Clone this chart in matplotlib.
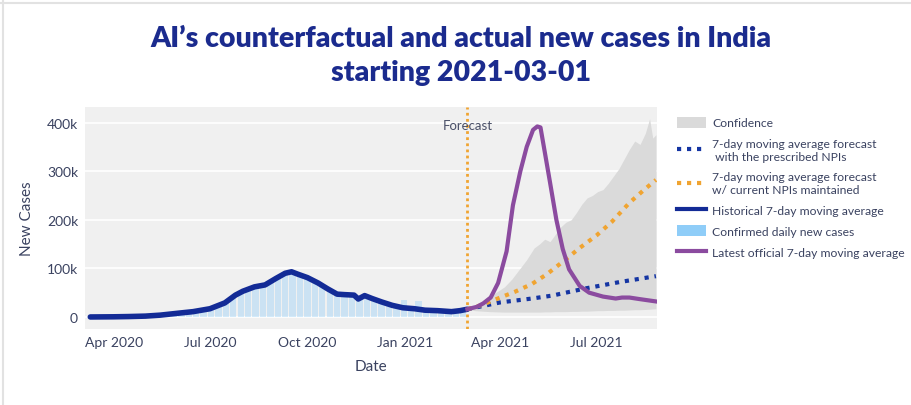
import numpy as np
import pandas as pd
import matplotlib
matplotlib.use("Agg")
import matplotlib.pyplot as plt
from matplotlib.lines import Line2D
from matplotlib.patches import Patch

plt.rcParams['font.family'] = ['Lato', 'DejaVu Sans']

# --- data (values in cases) ---
hist_dates = ['2020-03-10', '2020-04-01', '2020-04-15', '2020-05-01', '2020-05-15',
              '2020-06-01', '2020-06-15', '2020-07-01', '2020-07-15', '2020-07-25',
              '2020-08-01', '2020-08-12', '2020-08-22', '2020-09-01', '2020-09-10',
              '2020-09-16', '2020-09-22', '2020-10-01', '2020-10-11', '2020-10-20',
              '2020-10-29', '2020-11-05', '2020-11-14', '2020-11-18', '2020-11-24',
              '2020-12-01', '2020-12-10', '2020-12-20', '2020-12-30', '2021-01-10',
              '2021-01-20', '2021-02-01', '2021-02-14', '2021-02-22', '2021-03-01']
hist_vals = [50, 400, 900, 1800, 3800, 7800, 11000, 17000, 29000, 45000,
             53000, 62000, 66000, 79000, 90000, 93000, 88000, 81000, 70000, 58000,
             47000, 46000, 45000, 37000, 44000, 38000, 31000, 24000, 19000, 17000,
             14000, 13000, 11000, 13000, 16000]

conf_start = '2020-03-09'
conf_vals = [100, 100, 300, 500, 800, 1000, 1400, 1800, 3000, 3600, 5000, 6500,
             8500, 10000, 12000, 15000, 19000, 24000, 30000, 40000, 50000, 55000,
             62000, 64000, 72000, 80000, 88000, 95000, 88000, 80000, 73000, 65000,
             56000, 48000, 46000, 45000, 38000, 44000, 37000, 32000, 27000, 24000,
             35000, 20000, 33000, 15000, 14000, 12000, 11000, 11000, 14000]

latest_dates = ['2021-03-01', '2021-03-10', '2021-03-16', '2021-03-23', '2021-03-30',
                '2021-04-07', '2021-04-13', '2021-04-20', '2021-04-26', '2021-05-02',
                '2021-05-06', '2021-05-09', '2021-05-13', '2021-05-18', '2021-05-24',
                '2021-05-30', '2021-06-05', '2021-06-15', '2021-06-24', '2021-07-07',
                '2021-07-19', '2021-07-25', '2021-08-01', '2021-08-10', '2021-08-26']
latest_vals = [16000, 21000, 28000, 40000, 70000, 135000, 230000, 300000, 350000, 385000,
               392000, 390000, 340000, 277000, 200000, 140000, 98000, 64000, 50000, 42000,
               38000, 40000, 40000, 37000, 32000]

npi_dates = ['2021-03-01', '2021-04-01', '2021-05-01', '2021-05-20', '2021-06-21',
             '2021-07-23', '2021-08-26']
npi_vals = [16000, 30000, 38000, 44000, 59000, 72000, 84000]

cur_dates = ['2021-03-01', '2021-03-15', '2021-04-01', '2021-04-15', '2021-05-01',
             '2021-05-15', '2021-06-01', '2021-06-15', '2021-07-01', '2021-07-15',
             '2021-08-01', '2021-08-15', '2021-08-26']
cur_vals = [16000, 25000, 40000, 52000, 68000, 88000, 117000, 142000, 168000, 195000,
            235000, 262000, 282000]

band_dates = ['2021-03-01', '2021-03-08', '2021-03-15', '2021-03-22', '2021-03-29',
              '2021-04-05', '2021-04-12', '2021-04-19', '2021-04-26', '2021-05-03',
              '2021-05-08', '2021-05-13', '2021-05-18', '2021-05-23', '2021-05-28',
              '2021-06-02', '2021-06-07', '2021-06-12', '2021-06-17', '2021-06-22',
              '2021-06-27', '2021-07-02', '2021-07-07', '2021-07-12', '2021-07-17',
              '2021-07-22', '2021-07-27', '2021-08-01', '2021-08-06', '2021-08-11',
              '2021-08-16', '2021-08-20', '2021-08-23', '2021-08-26']
band_upper = [16000, 22000, 30000, 42000, 52000, 62000, 78000, 98000, 118000, 142000,
              150000, 160000, 155000, 170000, 185000, 195000, 200000, 215000, 232000, 245000,
              250000, 258000, 262000, 275000, 290000, 305000, 325000, 345000, 362000, 355000,
              378000, 408000, 368000, 375000]
band_lower = [16000, 13000, 12000, 11000, 10500, 10000, 10000, 10000, 10000, 10000,
              10000, 10500, 10500, 11000, 11000, 11000, 11500, 11500, 12000, 12000,
              12500, 13000, 13000, 13500, 13500, 14000, 14000, 14500, 15000, 15000,
              15500, 16000, 16500, 17000]

forecast_date = '2021-03-01'
x_ticks = ['2020-04-01', '2020-07-01', '2020-10-01', '2021-01-01', '2021-04-01', '2021-07-01']
x_tick_labels = ['Apr 2020', 'Jul 2020', 'Oct 2020', 'Jan 2021', 'Apr 2021', 'Jul 2021']
y_ticks = [0, 100000, 200000, 300000, 400000]
y_tick_labels = ['0', '100k', '200k', '300k', '400k']

# colours
c_hist = '#132b96'
c_npi = '#1535a3'
c_cur = '#f0a431'
c_latest = '#8b4b9f'
c_conf = '#8fcdf8'
c_band = '#dadada'
c_text = '#3a4260'

fig = plt.figure(figsize=(9.12, 4.06), dpi=100)
ax = fig.add_axes([85 / 912, 76 / 406, 572 / 912, 222 / 406])
ax.set_facecolor('#f0f0f0')

conf_x = pd.date_range(conf_start, periods=len(conf_vals), freq='7D')
ax.bar(conf_x, conf_vals, width=6, align='edge', color=c_conf, alpha=0.38, linewidth=0, zorder=2)

bx = pd.to_datetime(band_dates)
ax.fill_between(bx, band_lower, band_upper, color=c_band, linewidth=0, zorder=2)

ax.plot(pd.to_datetime(hist_dates), hist_vals, color=c_hist, lw=4, solid_capstyle='round', zorder=4)
ax.plot(pd.to_datetime(npi_dates), npi_vals, color=c_npi, lw=3, ls=(0, (1, 1.4)), zorder=4)
ax.plot(pd.to_datetime(cur_dates), cur_vals, color=c_cur, lw=3, ls=(0, (1, 1.4)), zorder=4)
ax.plot(pd.to_datetime(latest_dates), latest_vals, color=c_latest, lw=3, zorder=5)

fd = pd.Timestamp(forecast_date)
ax.axvline(fd, color=c_cur, lw=2, ls=(0, (1, 1.2)), zorder=3)
ax.text(fd, 395000, 'Forecast', ha='center', va='center', fontsize=9.5, color='#4a5068', zorder=6)

ax.set_xlim(pd.Timestamp('2020-03-05'), pd.Timestamp('2021-08-27'))
ax.set_ylim(-24700, 432000)
ax.set_xticks(pd.to_datetime(x_ticks))
ax.set_xticklabels(x_tick_labels)
ax.set_yticks(y_ticks)
ax.set_yticklabels(y_tick_labels)
ax.tick_params(length=0, labelsize=10, colors=c_text, pad=5)
ax.grid(axis='y', color='white', lw=1.2, zorder=1)
ax.set_axisbelow(True)
for s in ax.spines.values():
    s.set_visible(False)
ax.set_xlabel('Date', fontsize=11, color=c_text, labelpad=8)
ax.set_ylabel('New Cases', fontsize=11, color=c_text, labelpad=9)

fig.text(0.505, 0.862, 'AI\u2019s counterfactual and actual new cases in India\nstarting 2021-03-01',
         ha='center', va='center', fontsize=20.5, fontweight='heavy', color='#1b2b8e', linespacing=1.42)

handles = [
    Patch(facecolor=c_band, edgecolor='none'),
    Line2D([], [], color=c_npi, lw=3, ls=(0, (1, 1.4))),
    Line2D([], [], color=c_cur, lw=3, ls=(0, (1, 1.4))),
    Line2D([], [], color=c_hist, lw=3),
    Patch(facecolor=c_conf, edgecolor='none'),
    Line2D([], [], color=c_latest, lw=3),
]
labels = ['Confidence',
          '7-day moving average forecast\n with the prescribed NPIs',
          '7-day moving average forecast\nw/ current NPIs maintained',
          'Historical 7-day moving average',
          'Confirmed daily new cases',
          'Latest official 7-day moving average']
leg = fig.legend(handles, labels, loc='upper left', bbox_to_anchor=(672 / 912, 1 - 113 / 406),
                 frameon=False, fontsize=8.7, handlelength=2.4, handleheight=1.0,
                 labelspacing=0.78, handletextpad=0.55, borderaxespad=0)
for t in leg.get_texts():
    t.set_color(c_text)

# screenshot frame
fig.add_artist(Line2D([3 / 912, 3 / 912], [0, 1], color='#e2e2e2', lw=1.5))
fig.add_artist(Line2D([0, 1], [1 - 4 / 406, 1 - 4 / 406], color='#e2e2e2', lw=1.5))

fig.savefig('out.png', dpi=100)
